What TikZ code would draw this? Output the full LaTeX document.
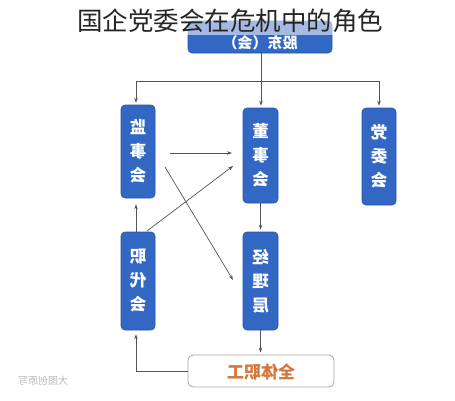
\documentclass[tikz,border=0pt]{standalone}
\usepackage{fontspec}
\usepackage{graphicx}
\newfontfamily\cjk{Noto Sans CJK SC}
\usetikzlibrary{arrows.meta}
\definecolor{boxblue}{RGB}{50,104,196}
\definecolor{boxedge}{RGB}{38,84,165}
\definecolor{linegray}{RGB}{85,85,85}
\definecolor{orangetxt}{RGB}{214,118,60}
\newcommand{\rf}[1]{\reflectbox{#1}}
\tikzset{
  bluebox/.style={draw=boxedge, fill=boxblue, rounded corners=4pt, line width=0.6pt,
    inner sep=0pt, text=white, align=center,
    font=\cjk\bfseries\fontsize{16.5}{24}\selectfont},
  whitebox/.style={draw=gray!70, fill=white, rounded corners=5pt, line width=0.8pt,
    inner sep=0pt, minimum width=146pt, minimum height=32pt},
  conn/.style={draw=linegray, line width=0.7pt},
  arr/.style={conn, -{Stealth[length=5pt,width=3.5pt]}},
}
\begin{document}
\begin{tikzpicture}[x=1pt,y=-1pt]
\useasboundingbox[fill=white] (0,0) rectangle (455,400);
% nodes
\node[bluebox, minimum width=144pt, minimum height=32pt] (gd) at (260,37) {};
\node[text=white, font=\cjk\bfseries\fontsize{15}{18}\selectfont] (gdt) at (260,43) {\rf{股东（会）}};
\node[bluebox, minimum width=34pt, minimum height=93pt] (jsh) at (138,151.5) {\rf{监}\\\rf{事}\\\rf{会}};
\node[bluebox, minimum width=35pt, minimum height=95pt] (dsh) at (260.5,155.5) {\rf{董}\\\rf{事}\\\rf{会}};
\node[bluebox, minimum width=34pt, minimum height=97pt] (dwh) at (379,156.5) {\rf{党}\\\rf{委}\\\rf{会}};
\node[bluebox, minimum width=34pt, minimum height=98pt] (zdh) at (138,281) {\rf{职}\\\rf{代}\\\rf{会}};
\node[bluebox, minimum width=35pt, minimum height=98pt] (jlc) at (260.5,281) {\rf{经}\\\rf{理}\\\rf{层}};
\node[whitebox] (qt) at (261,371) {};
\node[text=orangetxt, font=\cjk\bfseries\fontsize{17}{20}\selectfont] (qtt) at (261,372) {\rf{全体职工}};
% title band
\fill[white, opacity=0.55] (0,0) rectangle (455,35);
\node[text=black!85, font=\cjk\fontsize{25.5}{28}\selectfont] (title) at (230,21) {国企党委会在危机中的角色};
% watermark
\node[text=gray!55, font=\cjk\fontsize{10}{11}\selectfont] (wm) at (43,381) {\rf{大图创原写}};
% connectors
\coordinate (hL) at (136,81);
\coordinate (hR) at (379,81);
\coordinate (hM) at (261,81);
\draw[conn] (gd.south -| hM) -- (hM);
\draw[conn] (hL) -- (hR);
\draw[arr, shorten >=2pt] (hL) -- (hL |- jsh.north);
\draw[arr, shorten >=2pt] (hM) -- (hM |- dsh.north);
\draw[arr, shorten >=2pt] (hR) -- (dwh.north);
\draw[arr, shorten >=2pt] (dsh.south) -- (jlc.north);
\draw[arr, shorten >=2pt] (jlc.south) -- (jlc.south |- qt.north);
\draw[arr, shorten >=4pt] (qt.west) -| (hL |- zdh.south);
\draw[arr, shorten >=6pt] (hL |- zdh.north) -- (hL |- jsh.south);
\coordinate (a1) at (170,153);
\coordinate (a2) at (232,153);
\coordinate (b1) at (147,231);
\coordinate (b2) at (233,166);
\coordinate (c1) at (165,167);
\coordinate (c2) at (233,280);
\draw[arr] (a1) -- (a2);
\draw[arr] (b1) -- (b2);
\draw[arr] (c1) -- (c2);
\end{tikzpicture}
\end{document}
